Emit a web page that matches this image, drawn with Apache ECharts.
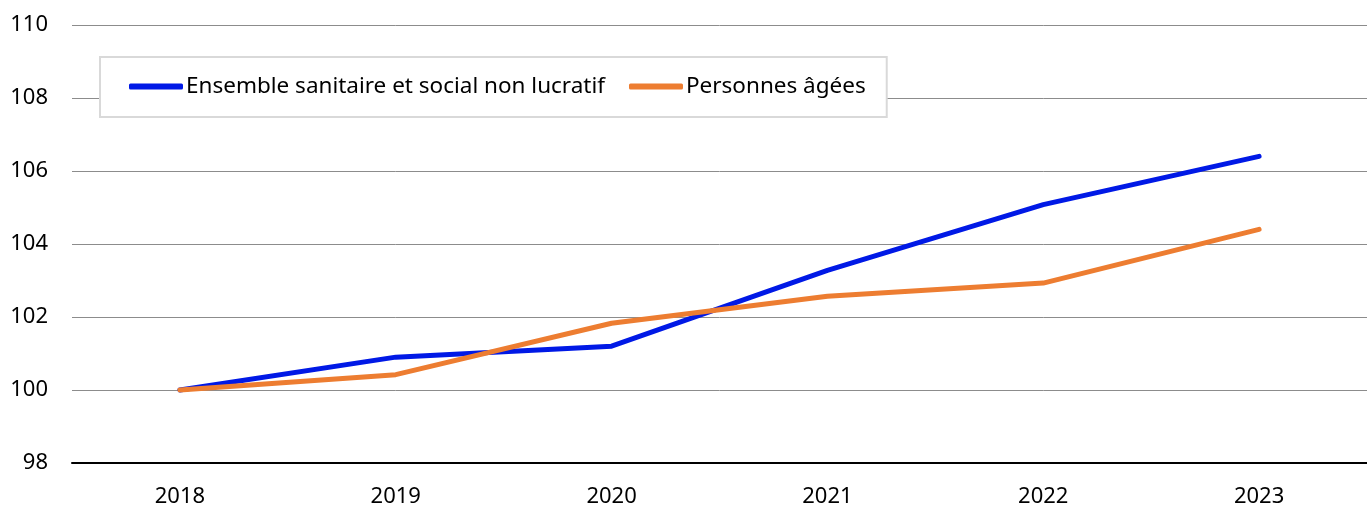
<!DOCTYPE html>
<html>
<head>
<meta charset="utf-8">
<script src="https://cdn.jsdelivr.net/npm/echarts@6/dist/echarts.min.js"></script>
<style>
html, body { margin: 0; padding: 0; background: #fff; }
#chart { width: 1367px; height: 507px; }
</style>
</head>
<body>
<div id="chart"></div>
<script>
var years = ['2018', '2019', '2020', '2021', '2022', '2023'];
var ensemble = [100, 100.9, 101.2, 103.28, 105.08, 106.4];
var personnesAgees = [100, 100.42, 101.83, 102.57, 102.93, 104.4];

var font = 'Noto Sans';
var chart = echarts.init(document.getElementById('chart'));
chart.setOption({
    animation: false,
    textStyle: { fontFamily: font },
    grid: { left: 72, right: 0, top: 25, bottom: 44, outerBoundsMode: 'none' },
    legend: {
        left: 100, top: 57,
        padding: [18, 21, 19, 29],
        backgroundColor: '#fff',
        borderColor: '#d9d9d9',
        borderWidth: 2,
        icon: 'roundRect',
        itemWidth: 54, itemHeight: 6,
        itemGap: 24,
        textStyle: { fontFamily: font, fontSize: 22.5, color: '#000', padding: [0, 0, 0, -2] },
        data: ['Ensemble sanitaire et social non lucratif', 'Personnes âgées']
    },
    xAxis: {
        type: 'category',
        data: years,
        axisLine: { lineStyle: { color: '#000', width: 2 } },
        axisTick: { show: false },
        axisLabel: { fontSize: 22, color: '#000', margin: 23 }
    },
    yAxis: {
        type: 'value',
        min: 98, max: 110, interval: 2,
        axisLine: { show: false },
        axisTick: { show: false },
        splitLine: { lineStyle: { color: '#8c8c8c', width: 1 } },
        axisLabel: { fontSize: 22, color: '#000', margin: 24 }
    },
    series: [{
        name: 'Ensemble sanitaire et social non lucratif',
        type: 'line',
        data: ensemble,
        symbol: 'none',
        color: '#0019e6',
        lineStyle: { width: 5, cap: 'round', join: 'round' }
    }, {
        name: 'Personnes âgées',
        type: 'line',
        data: personnesAgees,
        symbol: 'none',
        color: '#ed7d31',
        lineStyle: { width: 5, cap: 'round', join: 'round' }
    }]
});
</script>
</body>
</html>
